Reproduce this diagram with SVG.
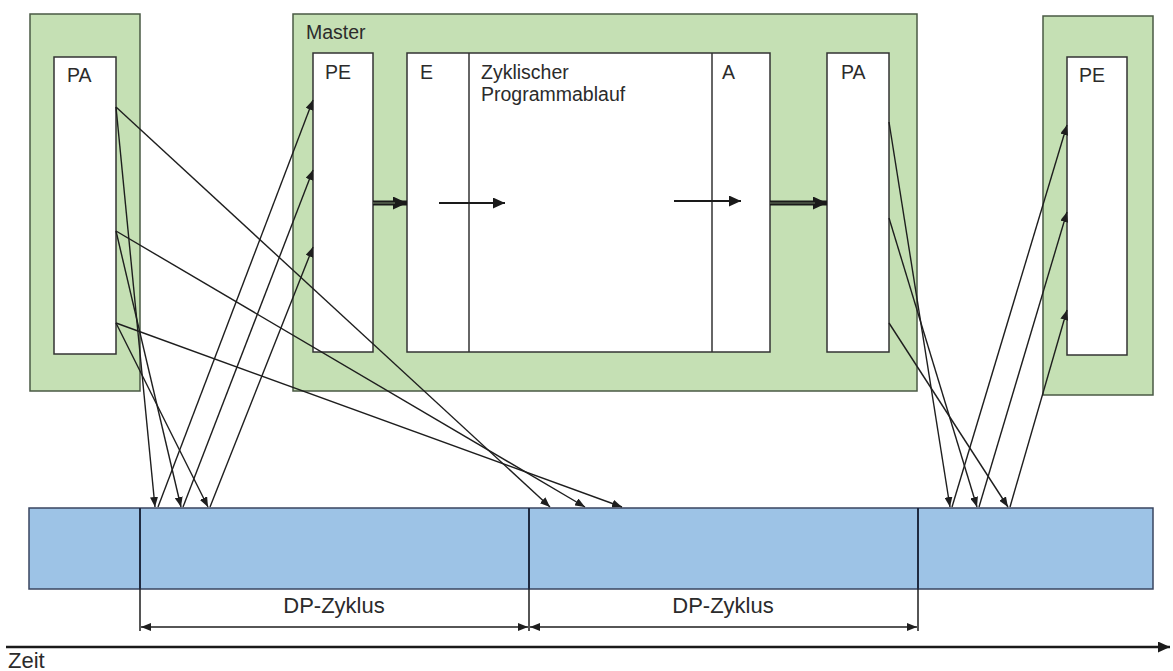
<svg xmlns="http://www.w3.org/2000/svg" width="1173" height="671" viewBox="0 0 1173 671">
<style>
  .green { fill: #c5e0b4; stroke: #4a5a44; stroke-width: 1.5; }
  .panel { fill: #ffffff; stroke: #333333; stroke-width: 1.5; }
  .bus { fill: #9dc3e6; stroke: #3a4660; stroke-width: 1.5; }
  .div { stroke: #1f2a40; stroke-width: 2; }
  .lbl { font-family: "Liberation Sans", Arial, sans-serif; font-size: 19.5px; fill: #2b2b2b; }
  .big { font-family: "Liberation Sans", Arial, sans-serif; font-size: 22px; fill: #2b2b2b; }
  .conn { stroke: #1e1e1e; stroke-width: 1.4; fill: none; marker-end: url(#ah); }
  .dim { stroke: #1e1e1e; stroke-width: 1.5; fill: none; }
</style>
<defs>
  <marker id="ah" markerUnits="userSpaceOnUse" markerWidth="10" markerHeight="8" refX="10" refY="4" orient="auto">
    <path d="M0,0 L10,4 L0,8 z" fill="#1e1e1e"/>
  </marker>
  <marker id="ahd" markerUnits="userSpaceOnUse" markerWidth="10" markerHeight="8" refX="10" refY="4" orient="auto-start-reverse">
    <path d="M0,0 L10,4 L0,8 z" fill="#1e1e1e"/>
  </marker>
  <marker id="ahb" markerUnits="userSpaceOnUse" markerWidth="14" markerHeight="13" refX="14" refY="6.5" orient="auto">
    <path d="M0,0 L14,6.5 L0,13 z" fill="#1a1a1a"/>
  </marker>
  <marker id="aht" markerUnits="userSpaceOnUse" markerWidth="12" markerHeight="11" refX="12" refY="5.5" orient="auto">
    <path d="M0,0 L12,5.5 L0,11 z" fill="#1a1a1a"/>
  </marker>
</defs>

<g id="slave-left">
  <rect class="green" x="30" y="14" width="110" height="377"/>
  <rect class="panel" x="54" y="57" width="62" height="297"/>
  <text class="lbl" x="67" y="82">PA</text>
</g>

<g id="master">
  <rect class="green" x="293" y="14" width="624" height="377"/>
  <text class="lbl" x="306" y="39">Master</text>
  <g id="master-pe">
    <rect class="panel" x="313" y="53" width="60" height="299"/>
    <text class="lbl" x="325" y="79">PE</text>
  </g>
  <g id="master-program">
    <rect class="panel" x="407" y="53" width="363" height="299"/>
    <line x1="469" y1="53" x2="469" y2="352" stroke="#333333" stroke-width="1.5"/>
    <line x1="712" y1="53" x2="712" y2="352" stroke="#333333" stroke-width="1.5"/>
    <text class="lbl" x="420" y="79">E</text>
    <text class="lbl" x="481" y="79">Zyklischer</text>
    <text class="lbl" x="481" y="101">Programmablauf</text>
    <text class="lbl" x="722" y="79">A</text>
  </g>
  <g id="master-pa">
    <rect class="panel" x="827" y="53" width="62" height="299"/>
    <text class="lbl" x="841" y="79">PA</text>
  </g>
</g>

<g id="slave-right">
  <rect class="green" x="1043" y="16" width="110" height="379"/>
  <rect class="panel" x="1067" y="57" width="60" height="298"/>
  <text class="lbl" x="1079" y="82">PE</text>
</g>

<g id="bus">
  <rect class="bus" x="29" y="508" width="1124" height="81"/>
  <line class="div" x1="140" y1="508" x2="140" y2="589"/>
  <line class="div" x1="529" y1="508" x2="529" y2="589"/>
  <line class="div" x1="918" y1="508" x2="918" y2="589"/>
</g>

<g id="connectors">
  <!-- internal master flow -->
  <line x1="373" y1="203" x2="407" y2="203" stroke="#1a1a1a" stroke-width="5" marker-end="url(#ahb)"/>
  <line x1="373" y1="203" x2="395" y2="203" stroke="#6a7a60" stroke-width="1.2"/>
  <line x1="439" y1="203" x2="505" y2="203" stroke="#1a1a1a" stroke-width="2" marker-end="url(#aht)"/>
  <line x1="674" y1="201" x2="741" y2="201" stroke="#1a1a1a" stroke-width="2" marker-end="url(#aht)"/>
  <line x1="770" y1="203" x2="827" y2="203" stroke="#1a1a1a" stroke-width="5" marker-end="url(#ahb)"/>
  <line x1="770" y1="203" x2="815" y2="203" stroke="#6a7a60" stroke-width="1.2"/>

  <!-- left slave PA to bus (cycle 1) -->
  <line class="conn" x1="116" y1="107" x2="155" y2="507"/>
  <line class="conn" x1="116" y1="231" x2="181" y2="507"/>
  <line class="conn" x1="116" y1="323" x2="208" y2="507"/>
  <!-- left slave PA to bus (cycle 2) -->
  <line class="conn" x1="116" y1="107" x2="550" y2="507"/>
  <line class="conn" x1="116" y1="231" x2="585" y2="507"/>
  <line class="conn" x1="116" y1="323" x2="622" y2="507"/>
  <!-- bus to master PE -->
  <line class="conn" x1="158" y1="507" x2="313" y2="100"/>
  <line class="conn" x1="183" y1="507" x2="313" y2="170"/>
  <line class="conn" x1="210" y1="507" x2="313" y2="247"/>
  <!-- master PA to bus (cycle 3) -->
  <line class="conn" x1="889" y1="122" x2="950" y2="507"/>
  <line class="conn" x1="889" y1="218" x2="977" y2="507"/>
  <line class="conn" x1="889" y1="323" x2="1008" y2="507"/>
  <!-- bus to right slave PE -->
  <line class="conn" x1="952" y1="507" x2="1067" y2="125"/>
  <line class="conn" x1="979" y1="507" x2="1067" y2="212"/>
  <line class="conn" x1="1010" y1="507" x2="1067" y2="310"/>

  <!-- DP cycle dimensions -->
  <line class="dim" x1="140" y1="589" x2="140" y2="631"/>
  <line class="dim" x1="529" y1="589" x2="529" y2="631"/>
  <line class="dim" x1="918" y1="589" x2="918" y2="631"/>
  <line class="dim" x1="141" y1="627" x2="528" y2="627" marker-start="url(#ahd)" marker-end="url(#ahd)"/>
  <line class="dim" x1="530" y1="627" x2="917" y2="627" marker-start="url(#ahd)" marker-end="url(#ahd)"/>

  <!-- time axis -->
  <line x1="6" y1="647" x2="1170" y2="647" stroke="#1a1a1a" stroke-width="2.5" marker-end="url(#aht)"/>
</g>

<text class="big" x="334" y="613" text-anchor="middle">DP-Zyklus</text>
<text class="big" x="723" y="613" text-anchor="middle">DP-Zyklus</text>
<text class="big" x="8" y="668">Zeit</text>
</svg>
